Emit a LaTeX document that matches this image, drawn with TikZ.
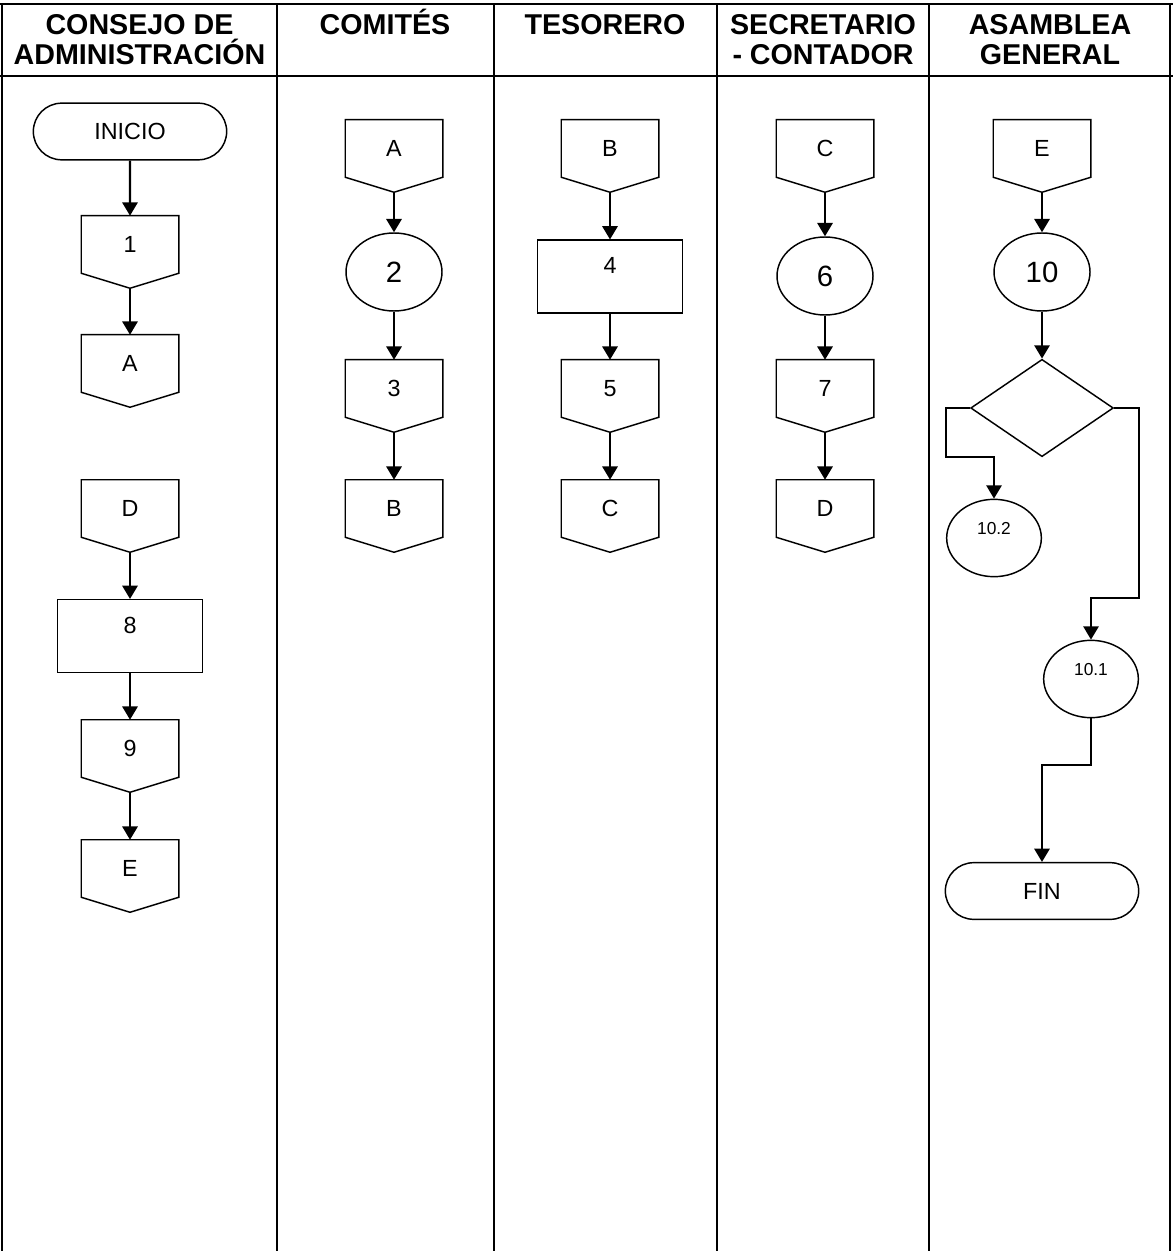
\documentclass[tikz,border=0pt]{standalone}
\usepackage{fontspec}
\setmainfont{Liberation Sans}
\usetikzlibrary{arrows.meta,shapes.geometric,shapes.misc}
\tikzset{
  head/.style={anchor=base, inner sep=0pt, font=\fontsize{21.5}{25}\selectfont\bfseries},
  shapeline/.style={line width=1.1pt},
  term/.style={rounded rectangle, draw, line width=1.1pt, minimum width=145pt, minimum height=42.5pt, inner sep=0pt, font=\fontsize{17.5}{20}\selectfont},
  conn/.style={minimum width=72.75pt, minimum height=54pt, inner sep=0pt, text depth=11pt, font=\fontsize{17.5}{20}\selectfont},
  proc/.style={draw, line width=1.1pt, minimum width=109pt, minimum height=54.5pt, inner sep=0pt, text depth=16pt, font=\fontsize{17.5}{20}\selectfont},
  oval/.style={ellipse, draw, line width=1.1pt, minimum width=72pt, minimum height=58.5pt, inner sep=0pt, font=\fontsize{22}{26}\selectfont},
  smalloval/.style={ellipse, draw, line width=1.1pt, minimum width=71pt, minimum height=58pt, inner sep=0pt, text depth=15pt, font=\fontsize{13}{15}\selectfont},
  arr/.style={line width=1.6pt, -{Triangle[length=10pt,width=11.5pt]}}
}
\begin{document}
\begin{tikzpicture}[x=0.75pt,y=-0.75pt]
    \useasboundingbox (0,0) rectangle (1173,1251);
    \draw[line width=1.6pt] (0,4) -- (1173,4) (0,76) -- (1173,76);
    \foreach \x in {2,277,494,717,929,1170}
        \draw[line width=1.6pt] (\x,4) -- (\x,1251);

    \node[head] (h1a) at (139.5,35) {CONSEJO DE};
    \node[head] (h1b) at (139.5,65) {ADMINISTRACIÓN};
    \node[head] (h2) at (385,35) {COMITÉS};
    \node[head] (h3) at (605,35) {TESORERO};
    \node[head] (h4a) at (823,35) {SECRETARIO};
    \node[head] (h4b) at (823,65) {- CONTADOR};
    \node[head] (h5a) at (1050,35) {ASAMBLEA};
    \node[head] (h5b) at (1050,65) {GENERAL};

    \node[term] (inicio) at (130,131.5) {INICIO};
    \node[conn] (c1) at (130,252) {1};
    \node[conn] (cA) at (130,371) {A};
    \node[conn] (cD) at (130,516) {D};
    \node[proc] (p8) at (130,636) {8};
    \node[conn] (c9) at (130,756) {9};
    \node[conn] (cE) at (130,876) {E};

    \node[conn] (kA) at (394,156) {A};
    \node[oval] (o2) at (394,272) {2};
    \node[conn] (k3) at (394,396) {3};
    \node[conn] (kB) at (394,516) {B};

    \node[conn] (tB) at (610,156) {B};
    \node[proc] (t4) at (610,276.5) {4};
    \node[conn] (t5) at (610,396) {5};
    \node[conn] (tC) at (610,516) {C};

    \node[conn] (sC) at (825,156) {C};
    \node[oval] (s6) at (825,276) {6};
    \node[conn] (s7) at (825,396) {7};
    \node[conn] (sD) at (825,516) {D};

    \node[conn] (aE) at (1042,156) {E};
    \node[oval] (a10) at (1042,272) {10};
    \node[diamond, draw, line width=1.1pt, minimum width=107pt, minimum height=73pt, inner sep=0pt] (dec) at (1042,408) {};
    \node[smalloval] (a102) at (994,538) {10.2};
    \node[smalloval] (a101) at (1091,679) {10.1};
    \node[term] (fin) at (1042,891) {FIN};

    \foreach \n in {c1,cA,cD,c9,cE,kA,k3,kB,tB,t5,tC,sC,s7,sD,aE}
        \draw[shapeline] (\n.north west) -- (\n.north east) -- ([yshift=11.25pt]\n.south east)
            -- (\n.south) -- ([yshift=11.25pt]\n.south west) -- cycle;

    \foreach \a/\b in {inicio/c1,c1/cA,cD/p8,p8/c9,c9/cE,kA/o2,o2/k3,k3/kB,tB/t4,t4/t5,t5/tC,sC/s6,s6/s7,s7/sD,aE/a10,a10/dec}
        \draw[arr] (\a) -- (\b);
    \draw[arr] (dec.west) -- ++(-24,0) -- ++(0,49) -| (a102.north);
    \draw[arr] (dec.east) -- ++(25,0) -- ++(0,190) -| (a101.north);
    \draw[arr] (a101.south) -- ++(0,47) -| (fin.north);
\end{tikzpicture}
\end{document}
